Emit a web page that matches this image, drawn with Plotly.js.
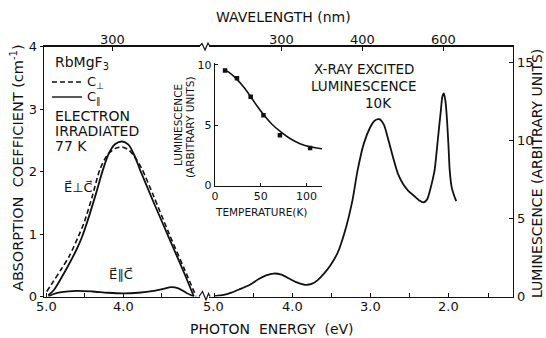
<!DOCTYPE html>
<html>
<head>
<meta charset="utf-8">
<script src="https://cdn.plot.ly/plotly-3.0.1.min.js"></script>
<style>
  html, body { margin: 0; padding: 0; background: #fff; }
  #chart { width: 546px; height: 338px; }
</style>
</head>
<body>
<div id="chart"></div>
<script>
// ---- Absorption of electron-irradiated RbMgF3, 77 K (left panel) ----
// C-parallel crystal, E perpendicular to c (solid)
const cParPerpEnergy = [4.97, 4.9, 4.8, 4.7, 4.6, 4.53, 4.45, 4.35, 4.26, 4.18, 4.1, 4.01, 3.93, 3.86, 3.78, 3.6, 3.4, 3.2, 3.08];
const cParPerpAbs    = [0.02, 0.1, 0.3, 0.52, 0.76, 0.96, 1.25, 1.65, 2.03, 2.3, 2.44, 2.48, 2.43, 2.28, 2.03, 1.5, 0.93, 0.36, 0.0];
// C-perpendicular crystal, E perpendicular to c (dashed)
const cPerpEnergy = [4.99, 4.9, 4.8, 4.7, 4.58, 4.5, 4.4, 4.3, 4.2, 4.1, 4.01, 3.92, 3.83, 3.75, 3.6, 3.4, 3.2, 3.05];
const cPerpAbs    = [0.08, 0.25, 0.44, 0.64, 0.96, 1.2, 1.6, 2.03, 2.27, 2.37, 2.39, 2.34, 2.2, 2.03, 1.6, 1.0, 0.43, 0.0];
// C-parallel crystal, E parallel to c (solid, weak)
const cParParEnergy = [4.97, 4.9, 4.8, 4.6, 4.4, 4.2, 4.0, 3.8, 3.6, 3.45, 3.38, 3.28, 3.18, 3.08];
const cParParAbs    = [0.0, 0.04, 0.07, 0.09, 0.08, 0.06, 0.05, 0.06, 0.09, 0.13, 0.15, 0.13, 0.06, 0.0];

// ---- X-ray excited luminescence, 10 K (right panel) ----
const lumEnergy = [4.99, 4.876, 4.778, 4.679, 4.542, 4.434, 4.335, 4.237, 4.139, 4.04, 3.942, 3.834, 3.745, 3.676, 3.598, 3.519, 3.421, 3.313, 3.234, 3.165, 3.086, 3.008, 2.949, 2.89, 2.831, 2.772, 2.713, 2.654, 2.585, 2.516, 2.447, 2.378, 2.329, 2.28, 2.241, 2.211, 2.182, 2.142, 2.103, 2.083, 2.064, 2.044, 2.024, 2.005, 1.99, 1.965, 1.936, 1.906];
const lumValue  = [0.03, 0.1, 0.25, 0.45, 0.75, 1.1, 1.35, 1.47, 1.4, 1.15, 0.9, 0.75, 0.82, 1.05, 1.45, 1.95, 2.8, 4.44, 6.1, 8.1, 9.8, 10.8, 11.25, 11.35, 11.0, 10.0, 8.9, 7.9, 7.2, 6.75, 6.45, 6.15, 6.02, 6.2, 6.8, 7.4, 8.1, 10.0, 11.9, 12.8, 13.0, 12.5, 11.3, 9.6, 8.1, 7.0, 6.5, 6.1];

// ---- Inset: luminescence vs temperature ----
const insetTempPts = [11, 24, 39, 53, 71, 104];
const insetLumPts  = [9.54, 8.9, 7.37, 5.83, 4.17, 3.12];
const insetTempFit = [9, 15, 24, 32, 39, 46, 54, 62, 72, 82, 93, 105, 117];
const insetLumFit  = [9.65, 9.4, 8.8, 8.1, 7.36, 6.6, 5.8, 5.1, 4.45, 3.9, 3.47, 3.2, 3.05];

// ---- Axis ticks ----
const energyTicksLeft = [5.0, 4.5, 4.0, 3.5];
const energyTextLeft  = ['5.0', '', '4.0', ''];
const energyTicksRight = [5.0, 4.5, 4.0, 3.5, 3.0, 2.5, 2.0, 1.5];
const energyTextRight  = ['5.0', '', '4.0', '', '3.0', '', '2.0', ''];
const absTicks = [0, 1, 2, 3, 4];
const lumTicks = [0, 5, 10, 15];
const wavelengthLeft = [300];
const wavelengthRight = [300, 400, 600];
const insetTempTicks = [0, 50, 100];
const insetLumTicks = [0, 5, 10];

const HC = 1239.84; // eV*nm
const toEnergy = nm => HC / nm;

const W = 546, H = 338;
const px = x => x / W;
const py = y => 1 - y / H;

const FONT = 'DejaVu Sans';
const INK = '#111';
const yDom = [py(296.5), py(46.5)];

const traces = [
  { x: cPerpEnergy, y: cPerpAbs, xaxis: 'x', yaxis: 'y', mode: 'lines',
    line: { color: INK, width: 1.6, dash: '5px,3px', shape: 'spline', smoothing: 0.8 } },
  { x: cParPerpEnergy, y: cParPerpAbs, xaxis: 'x', yaxis: 'y', mode: 'lines',
    line: { color: INK, width: 1.8, shape: 'spline', smoothing: 0.8 } },
  { x: cParParEnergy, y: cParParAbs, xaxis: 'x', yaxis: 'y', mode: 'lines',
    line: { color: INK, width: 1.8, shape: 'spline', smoothing: 0.8 } },
  { x: lumEnergy, y: lumValue, xaxis: 'x2', yaxis: 'y2', mode: 'lines',
    line: { color: INK, width: 1.8, shape: 'spline', smoothing: 0.7 } },
  // the same data bound to the wavelength axes so those axes get drawn
  { x: cPerpEnergy, y: cPerpAbs, xaxis: 'x3', yaxis: 'y', mode: 'lines', opacity: 0,
    line: { width: 0 }, hoverinfo: 'skip' },
  { x: lumEnergy, y: lumValue, xaxis: 'x4', yaxis: 'y2', mode: 'lines', opacity: 0,
    line: { width: 0 }, hoverinfo: 'skip' },
  { x: insetTempFit, y: insetLumFit, xaxis: 'x5', yaxis: 'y5', mode: 'lines',
    line: { color: INK, width: 1.6, shape: 'spline', smoothing: 0.8 } },
  { x: insetTempPts, y: insetLumPts, xaxis: 'x5', yaxis: 'y5', mode: 'markers',
    marker: { color: INK, size: 4.5, symbol: 'square' } }
];

const axisBase = {
  showgrid: false, zeroline: false, showline: true, linecolor: INK, linewidth: 1.3,
  tickcolor: INK, tickwidth: 1, ticklen: 4, autorange: false,
  tickfont: { family: FONT, size: 13, color: INK }, fixedrange: true
};

const leftRange = [5 + 2 / 77, 5 - 154 / 77];
const rightRange = [5 + 5 / 78.3, 5 - 299 / 78.3];

const layout = {
  width: W, height: H,
  margin: { l: 0, r: 0, t: 0, b: 0 },
  paper_bgcolor: '#fff', plot_bgcolor: 'rgba(0,0,0,0)',
  showlegend: false,
  font: { family: FONT, color: INK },
  xaxis: Object.assign({}, axisBase, {
    domain: [px(44), px(200)], range: leftRange, anchor: 'y',
    tickmode: 'array', tickvals: energyTicksLeft, showticklabels: false, ticks: 'inside'
  }),
  yaxis: Object.assign({}, axisBase, {
    domain: yDom, range: [0, 4], anchor: 'x',
    tickmode: 'array', tickvals: absTicks, ticks: 'outside', ticklen: 3
  }),
  xaxis2: Object.assign({}, axisBase, {
    domain: [px(209), px(513)], range: rightRange, anchor: 'y2',
    tickmode: 'array', tickvals: energyTicksRight, showticklabels: false, ticks: 'inside'
  }),
  yaxis2: Object.assign({}, axisBase, {
    domain: yDom, range: [0, 16], anchor: 'x2', side: 'right',
    tickmode: 'array', tickvals: lumTicks, ticks: 'inside', ticklen: 4
  }),
  xaxis3: Object.assign({}, axisBase, {
    overlaying: 'x', side: 'top', anchor: 'y', range: leftRange,
    tickmode: 'array', tickvals: wavelengthLeft.map(toEnergy), showticklabels: false, ticks: 'inside'
  }),
  xaxis4: Object.assign({}, axisBase, {
    overlaying: 'x2', side: 'top', anchor: 'y2', range: rightRange,
    tickmode: 'array', tickvals: wavelengthRight.map(toEnergy), showticklabels: false, ticks: 'inside'
  }),
  xaxis5: Object.assign({}, axisBase, {
    domain: [px(215), px(322)], range: [0, 117], anchor: 'y5', linewidth: 1.2,
    tickmode: 'array', tickvals: insetTempTicks, ticks: 'inside', ticklen: 3,
    tickfont: { family: FONT, size: 11, color: INK }
  }),
  yaxis5: Object.assign({}, axisBase, {
    domain: [py(185.5), py(62.5)], range: [0, 10.2], anchor: 'x5', linewidth: 1.2,
    tickmode: 'array', tickvals: insetLumTicks, ticks: 'inside', ticklen: 3,
    tickfont: { family: FONT, size: 11, color: INK }
  }),
  shapes: [
    // axis break marks
    { type: 'path', xref: 'paper', yref: 'paper',
      path: `M ${px(199)} ${py(46.5)} L ${px(202)} ${py(43.5)} L ${px(205)} ${py(50)} L ${px(208)} ${py(43)} L ${px(210)} ${py(46.5)}`,
      line: { color: INK, width: 1.2 } },
    { type: 'path', xref: 'paper', yref: 'paper',
      path: `M ${px(199)} ${py(296.5)} L ${px(202.5)} ${py(291.5)} L ${px(206)} ${py(300)} L ${px(208.5)} ${py(293.5)} L ${px(210)} ${py(296.5)}`,
      line: { color: INK, width: 1.2 } },
    // key line samples
    { type: 'line', xref: 'paper', yref: 'paper', x0: px(52), x1: px(82), y0: py(82), y1: py(82),
      line: { color: INK, width: 1.4, dash: '5px,3px' } },
    { type: 'line', xref: 'paper', yref: 'paper', x0: px(52), x1: px(82), y0: py(97), y1: py(97),
      line: { color: INK, width: 1.4 } }
  ],
  annotations: []
};

function label(text, x, y, opts) {
  layout.annotations.push(Object.assign({
    text: text, xref: 'paper', yref: 'paper', x: px(x), y: py(y),
    xanchor: 'center', yanchor: 'middle', showarrow: false,
    font: { family: FONT, size: 14, color: INK }
  }, opts || {}));
}

// tick labels set close to the axis lines, positioned on the data axes
function tickLabels(vals, texts, xref, yPix) {
  vals.forEach((v, i) => {
    if (!texts[i]) return;
    layout.annotations.push({
      text: texts[i], xref: xref, yref: 'paper', x: v, y: py(yPix),
      xanchor: 'center', yanchor: 'middle', showarrow: false,
      font: { family: FONT, size: 13, color: INK }
    });
  });
}
tickLabels(energyTicksLeft, energyTextLeft, 'x', 306.5);
tickLabels(energyTicksRight, energyTextRight, 'x2', 306.5);
tickLabels(wavelengthLeft.map(toEnergy), wavelengthLeft.map(String), 'x3', 39.5);
tickLabels(wavelengthRight.map(toEnergy), wavelengthRight.map(String), 'x4', 39.5);

const sp = '\u00a0';
label('WAVELENGTH' + sp + '(nm)', 283, 17);
label('PHOTON' + sp + sp + 'ENERGY' + sp + sp + '(eV)', 272, 329);
label('ABSORPTION' + sp + sp + 'COEFFICIENT' + sp + '(cm<sup>-1</sup>)', 17, 168, { textangle: -90, font: { family: FONT, size: 14.5, color: INK } });
label('LUMINESCENCE' + sp + '(ARBITRARY' + sp + 'UNITS)', 537, 174, { textangle: -90, font: { family: FONT, size: 14, color: INK } });

label('RbMgF<sub>3</sub>', 53, 63, { xanchor: 'left' });
label('C<sub>\u22a5</sub>', 85, 82, { xanchor: 'left', font: { family: FONT, size: 13, color: INK } });
label('C<sub>\u2225</sub>', 85, 97, { xanchor: 'left', font: { family: FONT, size: 13, color: INK } });
label('ELECTRON', 53, 116, { xanchor: 'left' });
label('IRRADIATED', 53, 130.5, { xanchor: 'left' });
label('77' + sp + 'K', 53, 146, { xanchor: 'left' });
label('E\u20d7\u22a5C\u20d7', 78, 187, { font: { family: FONT, size: 13, color: INK } });
label('E\u20d7\u2225C\u20d7', 121, 274, { font: { family: FONT, size: 13, color: INK } });

label('X-RAY' + sp + 'EXCITED', 364, 69, { font: { family: FONT, size: 13.5, color: INK } });
label('LUMINESCENCE', 364, 86, { font: { family: FONT, size: 13.5, color: INK } });
label('10K', 378, 102.5, { font: { family: FONT, size: 13.5, color: INK } });

label('LUMINESCENCE', 178, 125, { textangle: -90, font: { family: FONT, size: 10.5, color: INK } });
label('(ARBITRARY' + sp + 'UNITS)', 190, 127, { textangle: -90, font: { family: FONT, size: 10.5, color: INK } });
label('TEMPERATURE(K)', 261, 212, { font: { family: FONT, size: 10.5, color: INK } });

Plotly.newPlot('chart', traces, layout, { staticPlot: true, displayModeBar: false });
</script>
</body>
</html>
